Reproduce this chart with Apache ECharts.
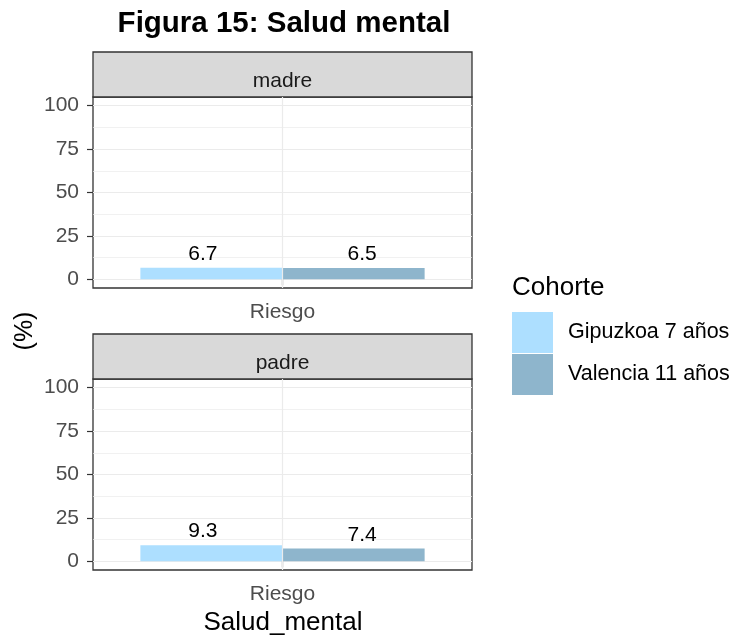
<!DOCTYPE html>
<html>
<head>
<meta charset="utf-8">
<script src="https://cdn.jsdelivr.net/npm/echarts@6/dist/echarts.min.js"></script>
<style>
  html, body { margin: 0; padding: 0; background: #fff; }
  #chart { width: 744px; height: 638px; }
</style>
</head>
<body>
<div id="chart"></div>
<script>
// datos
const categories = ['Riesgo']
const panels = ['madre', 'padre']
const cohortes = ['Gipuzkoa 7 años', 'Valencia 11 años']
const madreValues = [6.7, 6.5]
const padreValues = [9.3, 7.4]
const yTicks = [0, 25, 50, 75, 100]
const yMinor = [12.5, 37.5, 62.5, 87.5]

const colors = ['#ADDFFF', '#8EB5CC']
const font = 'Liberation Sans, Arial, sans-serif'

const chart = echarts.init(document.getElementById('chart'))

const plotLeft = 93, plotWidth = 379, plotHeight = 191
const panelTops = [97, 379]
const stripH = 45
// las etiquetas estan un poco mas separadas que las barras
const labelShift = [-8.5, 8.5]

const grids = [], xAxes = [], yAxes = [], series = []
const graphics = []

panels.forEach((p, i) => {
    grids.push({
        left: plotLeft, top: panelTops[i], width: plotWidth, height: plotHeight,
        show: true, borderColor: '#333333', borderWidth: 1.3, backgroundColor: '#fff'
    })
    xAxes.push({
        type: 'category', gridIndex: i, data: categories,
        axisLine: { show: false },
        axisTick: { show: true, alignWithLabel: true, length: 6, lineStyle: { color: '#333', width: 1.2 } },
        axisLabel: { color: '#4d4d4d', fontSize: 21, fontFamily: font, margin: 14 },
        splitLine: { show: false }
    })
    // eje principal
    yAxes.push({
        type: 'value', gridIndex: i, min: -5, max: 105,
        axisLine: { show: false },
        axisTick: { show: true, length: 6, customValues: yTicks, lineStyle: { color: '#333', width: 1.2 } },
        axisLabel: { color: '#4d4d4d', fontSize: 21, fontFamily: font, margin: 14, customValues: yTicks },
        splitLine: { show: true, lineStyle: { color: '#ebebeb', width: 1.2 } }
    })
    // eje para la rejilla menor
    yAxes.push({
        type: 'value', gridIndex: i, min: -5, max: 105,
        axisLine: { show: false },
        axisTick: { show: false, customValues: yMinor },
        axisLabel: { show: false, customValues: yMinor },
        splitLine: { show: true, lineStyle: { color: '#ebebeb', width: 0.7 } }
    })

    const vals = i === 0 ? madreValues : padreValues
    // linea vertical de la rejilla
    series.push({
        type: 'line', xAxisIndex: i, yAxisIndex: i * 2, data: [], z: 1, silent: true,
        markLine: {
            silent: true, symbol: 'none', label: { show: false },
            lineStyle: { color: '#ebebeb', width: 1.2, type: 'solid' },
            data: [{ xAxis: categories[0] }]
        }
    })
    cohortes.forEach((c, j) => {
        series.push({
            name: c, type: 'bar', xAxisIndex: i, yAxisIndex: i * 2, z: 3,
            data: [vals[j]], barWidth: '37.5%', barGap: '0%',
            itemStyle: { color: colors[j] },
            label: {
                show: true, position: 'top', distance: 3, color: '#000',
                fontSize: 21, fontFamily: font, offset: [labelShift[j], 0],
                formatter: d => d.value.toFixed(1)
            }
        })
    })

    // franja del panel
    graphics.push({
        type: 'rect', shape: { x: plotLeft, y: panelTops[i] - stripH, width: plotWidth, height: stripH },
        style: { fill: '#d9d9d9', stroke: '#333333', lineWidth: 1.3 }
    })
    graphics.push({
        type: 'text', x: plotLeft + plotWidth / 2, y: panelTops[i] - stripH / 2 + 7,
        style: { text: p, fill: '#1a1a1a', font: '21px ' + font, textAlign: 'center', textVerticalAlign: 'middle' }
    })
})

graphics.push({
    type: 'text', x: 284, y: 24,
    style: { text: 'Figura 15: Salud mental', fill: '#000', font: 'bold 29.5px ' + font, textAlign: 'center', textVerticalAlign: 'middle' }
})
graphics.push({
    type: 'text', x: 25, y: 331, rotation: Math.PI / 2,
    style: { text: '(%)', fill: '#000', font: '25px ' + font, textAlign: 'center', textVerticalAlign: 'middle' }
})
graphics.push({
    type: 'text', x: 283, y: 623,
    style: { text: 'Salud_mental', fill: '#000', font: '26px ' + font, textAlign: 'center', textVerticalAlign: 'middle' }
})
graphics.push({
    type: 'text', x: 512, y: 288,
    style: { text: 'Cohorte', fill: '#000', font: '26px ' + font, textAlign: 'left', textVerticalAlign: 'middle' }
})

chart.setOption({
    animation: false,
    backgroundColor: '#fff',
    grid: grids,
    xAxis: xAxes,
    yAxis: yAxes,
    legend: {
        orient: 'vertical', left: 512, top: 312,
        data: cohortes,
        icon: 'rect', itemWidth: 41, itemHeight: 41, itemGap: 1,
        textStyle: { color: '#000', fontSize: 21.5, fontFamily: font, padding: [0, 0, 0, 10] },
        padding: 0, selectedMode: false
    },
    series: series,
    graphic: graphics
})
</script>
</body>
</html>
